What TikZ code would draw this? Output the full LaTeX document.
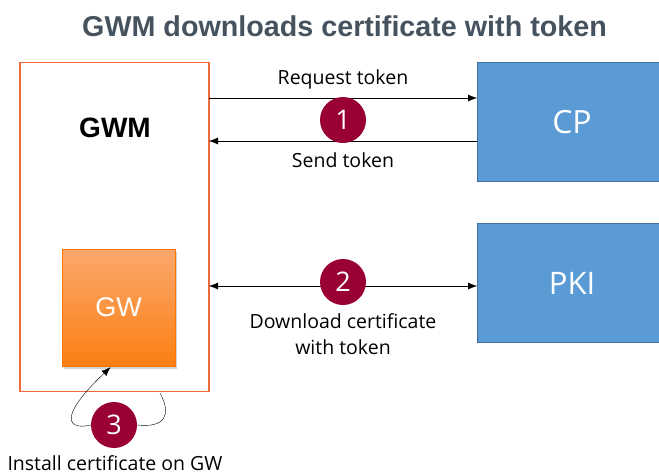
\documentclass[tikz,border=0pt]{standalone}
\usepackage{fontspec}
\setmainfont{Open Sans}
\newfontfamily\arialfont{Liberation Sans}
\usetikzlibrary{positioning, arrows.meta, calc, shadows}
\definecolor{gwmorange}{HTML}{EE6A3A}
\definecolor{gwtop}{HTML}{FBA86E}
\definecolor{gwbottom}{HTML}{FB7F12}
\definecolor{srvblue}{HTML}{5B9BD5}
\definecolor{srvborder}{HTML}{41719C}
\definecolor{stepred}{HTML}{990033}
\definecolor{titlegray}{HTML}{46535E}
\tikzset{
	x=1pt, y=-1pt, % one unit is one pixel of the sketch
	>={Latex[length=9pt,width=7pt]}, % filled arrow heads
	server/.style={draw=srvborder, fill=srvblue, minimum width=190pt, minimum height=119pt, inner sep=0pt}, % the blue boxes
	stepnum/.style={circle, fill=stepred, minimum size=46pt, inner sep=0pt, text=white, font=\fontsize{27}{30}\selectfont}, % numbered circles
	msg/.style={font=\fontsize{19.5}{26}\selectfont, align=center}, % arrow labels
}

\begin{document}
\begin{tikzpicture}
	\useasboundingbox (0,0) rectangle (659,475);
	\node[anchor=base, font=\arialfont\bfseries\fontsize{28.7}{32}\selectfont, text=titlegray] (title) at (344.5,36) {GWM downloads certificate with token};
	
	\node[draw=gwmorange, line width=1.2pt, minimum width=189pt, minimum height=329pt, inner sep=0pt] (gwm) at (114.5,227) {};
	\node[font=\arialfont\bfseries\fontsize{28}{32}\selectfont] (gwmlabel) at (115,128) {GWM};
	\node[draw=orange!90!red, top color=gwtop, bottom color=gwbottom, drop shadow={opacity=0.35, shadow xshift=2pt, shadow yshift=-3pt}, minimum width=113pt, minimum height=117pt, inner sep=0pt, text=white, font=\arialfont\fontsize{27}{30}\selectfont] (gw) at (118.5,307.5) {GW};
	
	\node[server, anchor=north west] (cp) at (477,62) {};
	\node[text=white, font=\fontsize{32}{36}\selectfont] (cplabel) at (572,122) {CP};
	\node[server, anchor=north west] (pki) at (477,223) {};
	\node[text=white, font=\fontsize{31}{36}\selectfont] (pkilabel) at (572,283) {PKI};
	
	\coordinate (req) at (209,98);
	\coordinate (snd) at (209,141);
	\coordinate (dl) at (209,286);
	\draw[->] (req) -- (req -| cp.west);
	\draw[->] (snd -| cp.west) -- (snd);
	\draw[<->] (dl) -- (dl -| pki.west);
	\node[msg] (reqlabel) at (343,79) {Request token};
	\node[msg] (sndlabel) at (343,160) {Send token};
	\node[msg] (dllabel) at (343,334) {Download certificate\\with token};
	
	\node[stepnum] (s1) at (343,120) {1};
	\node[stepnum] (s2) at (343,282) {2};
	\node[stepnum] (s3) at (114,425) {3};
	
	\coordinate (loopstart) at (160,393);
	\draw (loopstart) .. controls (172,415) and (165,428) .. (s3.east);
	\draw[->] (s3.west) .. controls (70,430) and (55,420) .. ($(gw.south)+(-8,1)$);
	\node[msg] (instlabel) at (115,463) {Install certificate on GW};
\end{tikzpicture}
\end{document}
